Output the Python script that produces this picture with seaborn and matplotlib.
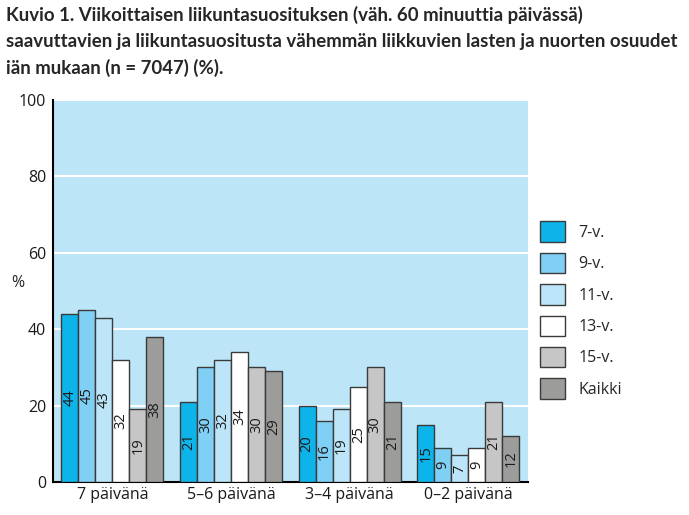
import pandas as pd
import seaborn as sns
import matplotlib.pyplot as plt

# --------------------------
# Data
# --------------------------
categories = ["7 päivänä", "5–6 päivänä", "3–4 päivänä", "0–2 päivänä"]
groups = ["7-v.", "9-v.", "11-v.", "13-v.", "15-v.", "Kaikki"]
values = {
    "7-v.":   [44, 21, 20, 15],
    "9-v.":   [45, 30, 16, 9],
    "11-v.":  [43, 32, 19, 7],
    "13-v.":  [32, 34, 25, 9],
    "15-v.":  [19, 30, 30, 21],
    "Kaikki": [38, 29, 21, 12],
}
colors = ["#0db4ea", "#80cff4", "#bde5f9", "#ffffff", "#c6c6c6", "#9c9c9b"]

rows = []
for g in groups:
    for c, v in zip(categories, values[g]):
        rows.append({"Päivät": c, "Ikä": g, "Osuus": v})
df = pd.DataFrame(rows)

# --------------------------
# Plot
# --------------------------
sns.set_style("white")
plt.rcParams["font.family"] = ["Open Sans", "DejaVu Sans"]

fig = plt.figure(figsize=(6.89, 5.15), dpi=100)
ax = fig.add_axes([0.077, 0.064, 0.689, 0.742])
ax.set_facecolor("#bde5f8")

sns.barplot(data=df, x="Päivät", y="Osuus", hue="Ikä", hue_order=groups,
            order=categories, palette=colors, saturation=1, width=0.86,
            edgecolor="#3a3a3a", linewidth=1.0, ax=ax, zorder=3)

for cont in ax.containers:
    ax.bar_label(cont, label_type="center", rotation=90, fontsize=10.5, color="#1a1a1a")

ax.set_ylim(0, 100)
ax.set_xlim(-0.5, 3.5)
ax.set_yticks([0, 20, 40, 60, 80, 100])
ax.yaxis.grid(True, color="white", linewidth=1.5, zorder=0)
ax.set_axisbelow(True)
ax.tick_params(axis="both", length=0, labelsize=11.5, colors="#1a1a1a")
ax.tick_params(axis="y", pad=5)
ax.set_xlabel("")
ax.set_ylabel("%", rotation=0, fontsize=11.5, labelpad=14)
ax.yaxis.set_label_coords(-0.075, 0.5)

for s in ["top", "right"]:
    ax.spines[s].set_visible(False)
for s in ["left", "bottom"]:
    ax.spines[s].set_color("black")
    ax.spines[s].set_linewidth(1.5)

leg = ax.legend(loc="center left", bbox_to_anchor=(0.995, 0.45), frameon=False,
                fontsize=11.5, handlelength=1.6, handleheight=1.6,
                labelspacing=0.68, handletextpad=0.8)

fig.text(0.008, 0.988,
         "Kuvio 1. Viikoittaisen liikuntasuosituksen (väh. 60 minuuttia päivässä)\n"
         "saavuttavien ja liikuntasuositusta vähemmän liikkuvien lasten ja nuorten osuudet\n"
         "iän mukaan (n = 7047) (%).",
         ha="left", va="top", fontsize=13.4, fontweight="bold",
         linespacing=1.6, family=["Lato", "DejaVu Sans"])

plt.savefig("out.png", dpi=100)
